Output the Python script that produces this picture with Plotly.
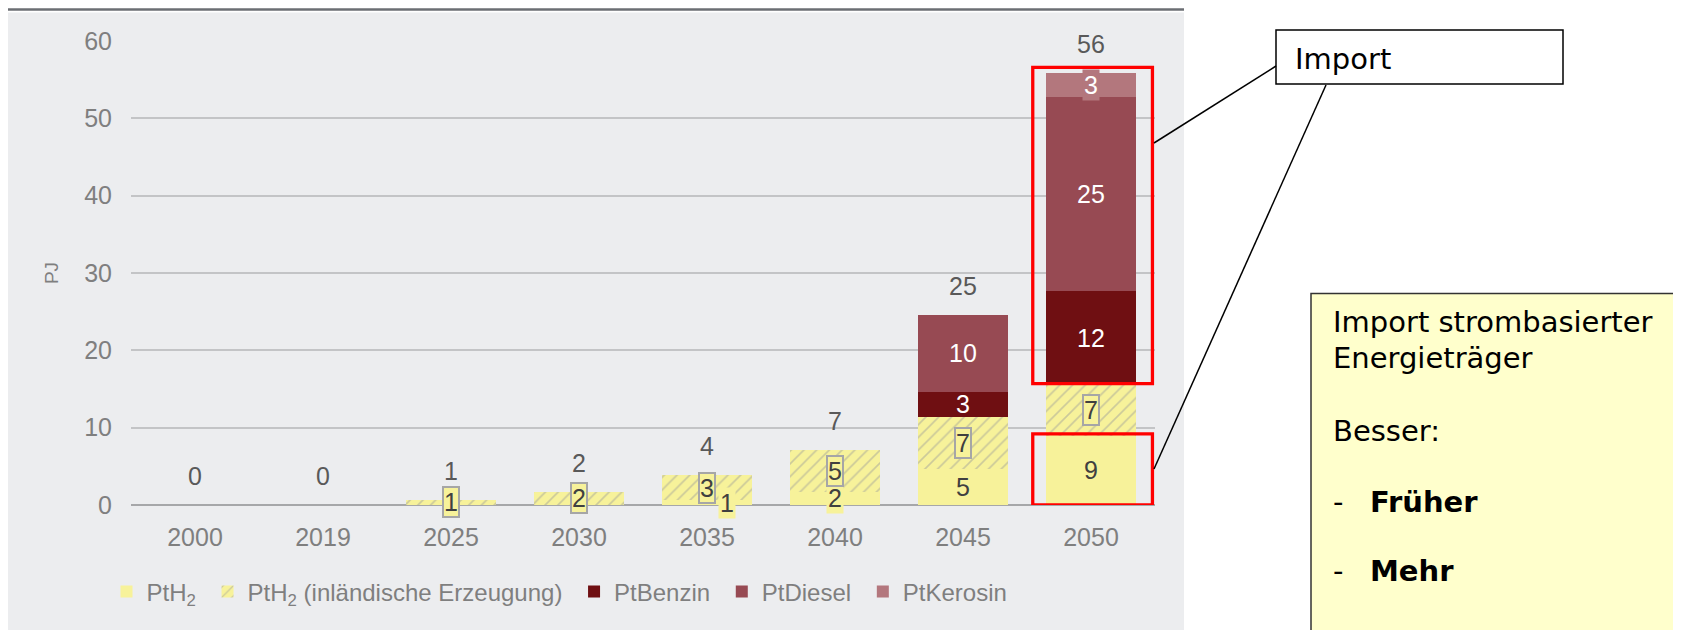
import plotly.graph_objects as go

# data (PJ)
years = ["2000", "2019", "2025", "2030", "2035", "2040", "2045", "2050"]
pth2 = [0, 0, 0, 0, 0.6, 1.7, 4.6, 8.95]
pth2_inland = [0, 0, 0.7, 1.7, 3.25, 5.4, 6.8, 6.55]
ptbenzin = [0, 0, 0, 0, 0, 0, 3.2, 12.2]
ptdiesel = [0, 0, 0, 0, 0, 0, 10.0, 25.1]
ptkerosin = [0, 0, 0, 0, 0, 0, 0, 3.0]

# the page body has an 8px margin, so the figure starts at (8, 8) of the window
OFF = 8
W, H = 1681 - OFF, 630 - OFF
L, T, PW, PH = 123, 33, 1024, 464
R, B = W - L - PW, H - T - PH

YELLOW = "#f7f29a"
BENZIN = "#6f0f12"
DIESEL = "#974a53"
KEROSIN = "#b3777d"
PANEL = "#ecedef"
FONT = "Liberation Sans"
NB = "\u00a0"


def xp(px):
    # window pixel -> paper fraction
    return (px - OFF - L) / PW


def yp(py):
    return (T + PH - (py - OFF)) / PH


series = [
    dict(name="PtH<sub>2</sub>" + NB, y=pth2, color=YELLOW, hatch=False,
         font="#404040", box=None, bg=YELLOW),
    dict(name="PtH<sub>2</sub> (inländische Erzeugung)" + NB, y=pth2_inland,
         color=YELLOW, hatch=True, font="#404040", box="#a6a6a6", bg=YELLOW),
    dict(name="PtBenzin" + NB, y=ptbenzin, color=BENZIN, hatch=False,
         font="white", box=None, bg=None),
    dict(name="PtDiesel" + NB, y=ptdiesel, color=DIESEL, hatch=False,
         font="white", box=None, bg=None),
    dict(name="PtKerosin", y=ptkerosin, color=KEROSIN, hatch=False,
         font="white", box=None, bg=KEROSIN),
]

# manual nudges of single labels, as in the original chart
label_shift = {(0, "2035"): 20}

fig = go.Figure()
annotations = []
cum = [0.0] * len(years)

for k, s in enumerate(series):
    marker = dict(color=s["color"], line=dict(width=0))
    if s["hatch"]:
        marker["pattern"] = dict(shape="/", bgcolor=YELLOW, fgcolor="#9f9f9a",
                                 size=9, solidity=0.18)
    fig.add_trace(go.Bar(x=years, y=s["y"], name=s["name"], marker=marker))
    for i, v in enumerate(s["y"]):
        if v > 0:
            a = dict(x=i, y=cum[i] + v / 2, text=f"{v:.0f}", showarrow=False,
                     font=dict(family=FONT, size=25, color=s["font"]),
                     xshift=label_shift.get((k, years[i]), 0))
            if s["bg"]:
                a["bgcolor"] = s["bg"]
            if s["box"]:
                a.update(bordercolor=s["box"], borderwidth=2, borderpad=0)
            annotations.append(a)
        cum[i] += v

# totals above the bars
for i, total in enumerate(cum):
    annotations.append(dict(x=i, y=total, text=f"{total:.0f}", showarrow=False,
                            yshift=29, font=dict(family=FONT, size=25, color="#595959")))

# callouts on the right
CALL = dict(family="DejaVu Sans", size=29, color="black")
annotations.append(dict(xref="paper", yref="paper", x=xp(1293), y=yp(59),
                        xanchor="left", yanchor="middle", text="Import", showarrow=False,
                        font=CALL))
box_lines = [("Import strombasierter", 322), ("Energieträger", 358), ("Besser:", 431)]
for txt, py in box_lines:
    annotations.append(dict(xref="paper", yref="paper", x=xp(1331), y=yp(py),
                            xanchor="left", yanchor="middle", text=txt, showarrow=False,
                            font=CALL))
for txt, py in [("Früher", 502), ("Mehr", 571)]:
    annotations.append(dict(xref="paper", yref="paper", x=xp(1331), y=yp(py),
                            xanchor="left", yanchor="middle", text="-", showarrow=False,
                            font=CALL))
    annotations.append(dict(xref="paper", yref="paper", x=xp(1368), y=yp(py),
                            xanchor="left", yanchor="middle", text=f"<b>{txt}</b>",
                            showarrow=False, font=CALL))

n = len(years) - 1
imp_low = pth2[n]
imp_base = pth2[n] + pth2_inland[n]
shapes = [
    # grey panel and top rule
    dict(type="rect", xref="paper", yref="paper", x0=xp(8), x1=xp(1184), y0=yp(12.5),
         y1=yp(650), fillcolor=PANEL, line=dict(width=0), layer="below"),
    dict(type="line", xref="paper", yref="paper", x0=xp(8), x1=xp(1184), y0=yp(9.5),
         y1=yp(9.5), line=dict(color="#6b6e73", width=2.5)),
    # red frames around the imported parts of 2050
    dict(type="rect", x0=n - 0.455, x1=n + 0.48, y0=imp_base + 0.2, y1=cum[n] + 0.8,
         line=dict(color="#ff0000", width=3.3)),
    dict(type="rect", x0=n - 0.455, x1=n + 0.48, y0=0, y1=imp_low + 0.25,
         line=dict(color="#ff0000", width=3.3)),
    # callout boxes and connectors
    dict(type="rect", xref="paper", yref="paper", x0=xp(1276), x1=xp(1563), y0=yp(30),
         y1=yp(84), fillcolor="white", line=dict(color="black", width=1.5)),
    dict(type="line", xref="paper", yref="paper", x0=xp(1276), y0=yp(66), x1=xp(1154),
         y1=yp(143), line=dict(color="black", width=1.5)),
    dict(type="line", xref="paper", yref="paper", x0=xp(1326), y0=yp(85), x1=xp(1154),
         y1=yp(469), line=dict(color="black", width=1.5)),
    dict(type="rect", xref="paper", yref="paper", x0=xp(1311), x1=xp(1700), y0=yp(293.5),
         y1=yp(660), fillcolor="#ffffcc", line=dict(color="#333333", width=1.5)),
]

fig.update_layout(
    width=W,
    height=H,
    barmode="stack",
    bargap=0.29,
    paper_bgcolor="white",
    plot_bgcolor=PANEL,
    margin=dict(l=L, r=R, t=T, b=B, pad=0),
    font=dict(family=FONT, color="#7f7f7f"),
    xaxis=dict(type="category", range=[-0.5, len(years) - 0.5], showgrid=False,
               ticks="", showline=False, zeroline=False, ticklabelstandoff=15,
               tickfont=dict(size=25, color="#7f7f7f")),
    yaxis=dict(range=[0, 60], dtick=10, gridcolor="#c3c4c6", gridwidth=2,
               zeroline=True, zerolinecolor="#a6a7a9", zerolinewidth=2,
               tickfont=dict(size=25, color="#7f7f7f"), ticklabelstandoff=18,
               title=dict(text="PJ", font=dict(size=19, color="#7f7f7f"), standoff=20)),
    legend=dict(orientation="h", x=xp(106.5), y=yp(592), xanchor="left",
                yanchor="middle", font=dict(size=24, color="#7f7f7f"),
                bgcolor="rgba(0,0,0,0)", traceorder="normal"),
    annotations=annotations,
    shapes=shapes,
    showlegend=True,
)

fig.write_html("out.html")
